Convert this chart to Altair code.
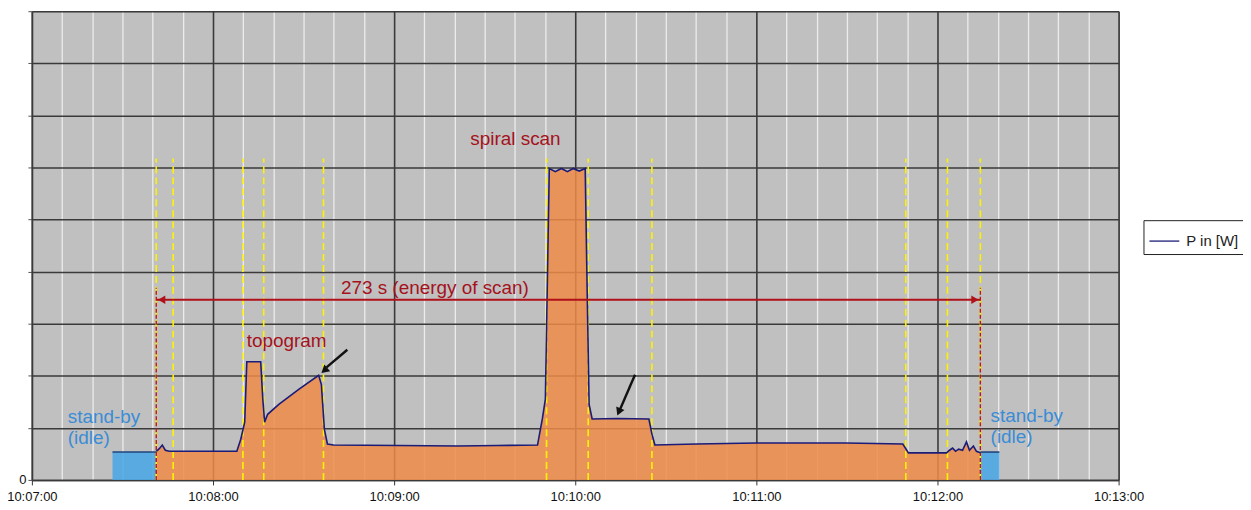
import altair as alt
import pandas as pd

# ---- data (x: seconds after 10:07:00, y: power in grid units) ----
t_main = [41.2, 42.2, 43.2, 44.2, 45.5, 55.4, 67.9, 69.2, 70.5, 71.2, 75.8, 76.5, 77.1, 78.1,
          81.8, 88.4, 95.0, 95.9, 96.9, 97.9, 99.9, 121.3, 141.1, 154.3, 167.5, 169.1, 170.1,
          171.4, 173.4, 175.4, 177.4, 179.3, 181.3, 183.3, 184.0, 184.6, 185.6, 193.8, 204.4,
          205.4, 206.4, 220.2, 240.0, 269.7, 288.5, 290.4, 303.0, 304.0, 305.0, 306.0, 307.0,
          308.3, 309.6, 310.6, 311.9, 312.9, 314.2]
p_main = [0.55, 0.60, 0.67, 0.57, 0.55, 0.55, 0.55, 0.78, 1.11, 2.27, 2.27, 1.55, 1.11, 1.26,
          1.45, 1.74, 2.01, 1.83, 0.97, 0.69, 0.67, 0.66, 0.65, 0.66, 0.67, 1.17, 1.55,
          5.98, 5.92, 5.98, 5.92, 5.98, 5.93, 5.98, 3.46, 1.45, 1.17, 1.18, 1.17,
          0.88, 0.67, 0.69, 0.71, 0.71, 0.69, 0.52, 0.52, 0.57, 0.61, 0.55, 0.59,
          0.57, 0.73, 0.57, 0.65, 0.55, 0.52]

standby_t = [26.7, 41.2, 314.2, 320.5]
standby_p = [0.535, 0.535, 0.535, 0.535]
standby_seg = ["a", "a", "b", "b"]

phase_lines_t = [41.2, 46.8, 69.9, 76.8, 96.6, 170.5, 184.3, 205.4, 289.5, 303.3, 314.2]
scan_start, scan_end = 41.2, 314.2

x_ticks = [0, 60, 120, 180, 240, 300, 360]
x_tick_labels = ["10:07:00", "10:08:00", "10:09:00", "10:10:00", "10:11:00", "10:12:00", "10:13:00"]
minor_ticks = list(range(0, 361, 10))
y_ticks = [0, 1, 2, 3, 4, 5, 6, 7, 8, 9]

FONT = "Liberation Sans"
DARKRED = "#A5121C"
BLUE = "#3A8CD6"

main_df = pd.DataFrame({"t": t_main, "p": p_main, "series": "P in [W]"})
stby_df = pd.DataFrame({"t": standby_t, "p": standby_p, "seg": standby_seg})

xs = alt.Scale(domain=[0, 360], nice=False, zero=False)
ys = alt.Scale(domain=[0, 9], nice=False)

labels_js = "[" + ",".join("'" + s + "'" for s in x_tick_labels) + "]"
x_axis = alt.Axis(
    values=minor_ticks, title=None,
    labelExpr=f"datum.value % 60 === 0 ? {labels_js}[datum.value/60] : ''",
    grid=True,
    gridColor={"condition": {"test": "datum.value % 60 === 0", "value": "#3a3a3a"}, "value": "#ececec"},
    gridWidth={"condition": {"test": "datum.value % 60 === 0", "value": 1.6}, "value": 1.3},
    tickColor={"condition": {"test": "datum.value % 60 === 0", "value": "#333333"}, "value": "transparent"},
    tickSize=5, labelFont=FONT, labelFontSize=13, labelColor="#111111", labelPadding=6,
    domainColor="#3a3a3a", domainWidth=1.5, labelFlush=False, labelOverlap=False,
)
y_axis = alt.Axis(
    values=y_ticks, title=None, labelExpr="datum.value === 0 ? '0' : ''",
    grid=True, gridColor="#3a3a3a", gridWidth=1.6, tickColor="#555555", tickSize=4,
    labelFont=FONT, labelFontSize=13, labelColor="#111111", domainColor="#3a3a3a", domainWidth=1.5,
)


def X(field):
    return alt.X(field, scale=xs, axis=x_axis, title=None)


def Y(field):
    return alt.Y(field, scale=ys, axis=y_axis, stack=None, title=None)


area_main = alt.Chart(main_df).mark_area(color="#EF8B48", opacity=0.85).encode(x=X("t:Q"), y=Y("p:Q"))
area_stby = alt.Chart(stby_df).mark_area(color="#48A6E7", opacity=0.85).encode(
    x=X("t:Q"), y=Y("p:Q"), detail="seg:N")
line_stby = alt.Chart(stby_df).mark_line(color="#22447e", strokeWidth=1.6).encode(
    x=X("t:Q"), y=Y("p:Q"), detail="seg:N")

yellow_df = pd.DataFrame({"t": phase_lines_t, "y0": 0.0, "y1": 6.17})
yellow = alt.Chart(yellow_df).mark_rule(color="#FFF200", strokeWidth=1.6, strokeDash=[7, 4]).encode(
    x=X("t:Q"), y=Y("y0:Q"), y2="y1:Q")

red_df = pd.DataFrame({"t": [scan_start, scan_end], "y0": 0.0, "y1": 3.69})
red_v = alt.Chart(red_df).mark_rule(color="#C0141C", strokeWidth=1.4, strokeDash=[4, 2]).encode(
    x=X("t:Q"), y=Y("y0:Q"), y2="y1:Q")

red_h_df = pd.DataFrame({"t0": [scan_start], "t1": [scan_end], "y": [3.46]})
red_h = alt.Chart(red_h_df).mark_rule(color="#B0101A", strokeWidth=2).encode(
    x=X("t0:Q"), x2="t1:Q", y=Y("y:Q"))
red_heads_df = pd.DataFrame({"t": [scan_start + 2.2, scan_end - 2.2], "y": [3.46, 3.46], "ang": [270, 90]})
red_heads = alt.Chart(red_heads_df).mark_point(shape="triangle", filled=True, color="#B0101A",
                                              size=70, opacity=1).encode(
    x=X("t:Q"), y=Y("y:Q"), angle=alt.Angle("ang:Q", scale=None))

line_main = alt.Chart(main_df).mark_line(strokeWidth=1.6).encode(
    x=X("t:Q"), y=Y("p:Q"),
    color=alt.Color("series:N", scale=alt.Scale(range=["#1b1b78"]),
                    legend=alt.Legend(title=None, orient="none", legendX=1117, legendY=210,
                                      strokeColor="#222222", fillColor="white", padding=5,
                                      symbolType="stroke", symbolStrokeWidth=1.3, symbolSize=900,
                                      labelFont=FONT, labelFontSize=15, labelColor="#222222",
                                      labelOffset=6, cornerRadius=0)))

# arrows (black)
arrow_df = pd.DataFrame({"t0": [104.5, 199.8], "y0": [2.50, 2.02], "t1": [97.6, 194.9], "y1": [2.16, 1.36]})
arrow_lines = alt.Chart(arrow_df).mark_rule(color="#111111", strokeWidth=2.4).encode(
    x=X("t0:Q"), x2="t1:Q", y=Y("y0:Q"), y2="y1:Q")
arrow_heads_df = pd.DataFrame({"t": [97.2, 194.6], "y": [2.12, 1.33], "ang": [229, 203]})
arrow_heads = alt.Chart(arrow_heads_df).mark_point(shape="triangle", filled=True, color="#111111",
                                                  size=80, opacity=1).encode(
    x=X("t:Q"), y=Y("y:Q"), angle=alt.Angle("ang:Q", scale=None))

red_text_df = pd.DataFrame({
    "t": [133.5, 160.2, 84.4],
    "y": [3.68, 6.54, 2.66],
    "txt": ["273 s (energy of scan)", "spiral scan", "topogram"],
})
red_text = alt.Chart(red_text_df).mark_text(font=FONT, fontSize=19, color=DARKRED).encode(
    x=X("t:Q"), y=Y("y:Q"), text="txt:N")

blue_text_df = pd.DataFrame({
    "t": [11.9, 11.9, 317.6, 317.6],
    "y": [1.21, 0.80, 1.23, 0.82],
    "txt": ["stand-by", "(idle)", "stand-by", "(idle)"],
})
blue_text = alt.Chart(blue_text_df).mark_text(font=FONT, fontSize=19, color=BLUE, align="left").encode(
    x=X("t:Q"), y=Y("y:Q"), text="txt:N")

chart = alt.layer(
    area_main, area_stby, yellow, red_v, line_stby, line_main, red_h, red_heads,
    arrow_lines, arrow_heads, red_text, blue_text
).properties(
    width=1092, height=471,
    padding={"left": 24, "top": 2, "right": 125, "bottom": 28},
    autosize="none",
    background="white",
).configure_view(
    fill="#C0C0C0", stroke="#8a8a8a", strokeWidth=1
)

chart.save("out.html", embed_options={"renderer": "svg", "actions": False})
